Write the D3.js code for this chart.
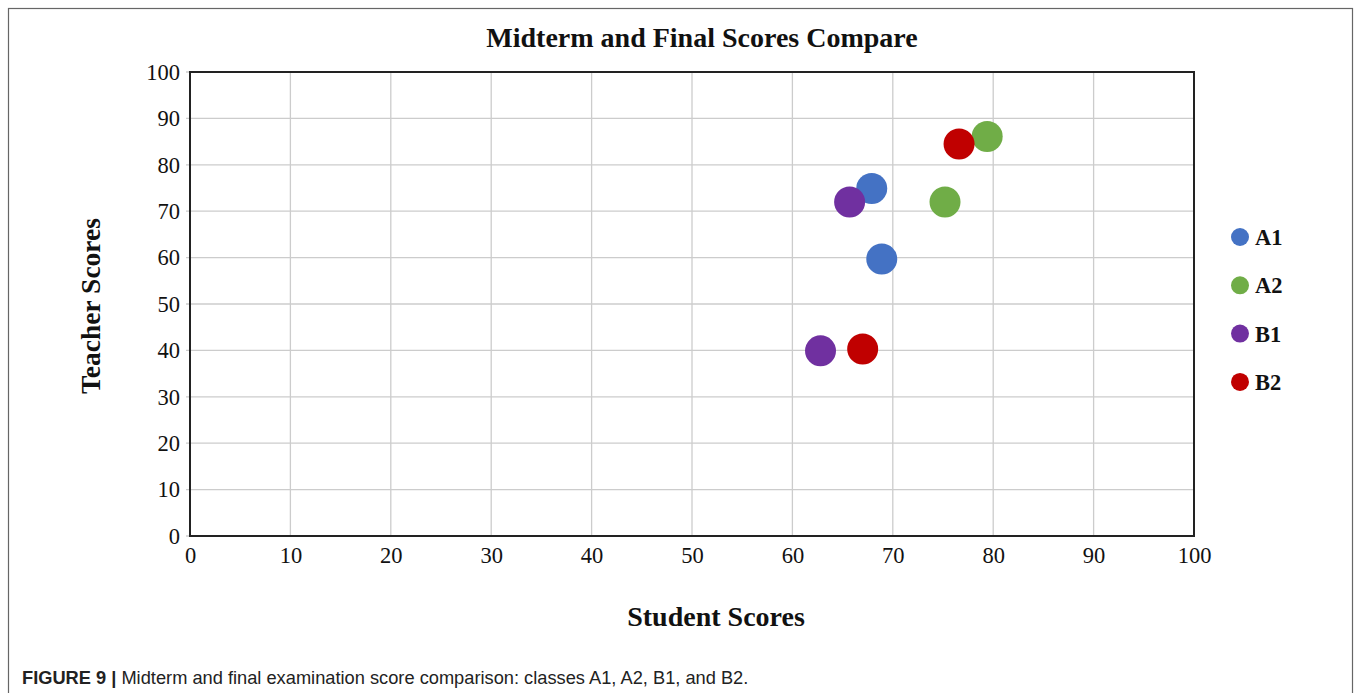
<!DOCTYPE html>
<html>
<head>
<meta charset="utf-8">
<script src="https://cdn.jsdelivr.net/npm/d3@7"></script>
<style>
    body { margin: 0; background: #fff; }
    svg { display: block; }
</style>
</head>
<body>
<script>
(function(){

    // classes and their colours
    var classNames = ["A1", "A2", "B1", "B2"];
    var classColors = ["#4472C4", "#70AD47", "#7030A0", "#C00000"];

    // student scores (x) and teacher scores (y), midterm then final
    var studentScores = [
        [67.9, 68.9],
        [75.2, 79.4],
        [65.7, 62.8],
        [67.0, 76.6]
    ];
    var teacherScores = [
        [74.9, 59.7],
        [72.0, 86.1],
        [72.0, 39.9],
        [40.3, 84.5]
    ];

    var tickValues = [0, 10, 20, 30, 40, 50, 60, 70, 80, 90, 100];

    window.onload = setChart();

    function setChart(){
        var width = 1358,
            height = 693;

        var serif = "'Liberation Serif', 'Times New Roman', serif";

        var svg = d3.select("body")
            .append("svg")
            .attr("width", width)
            .attr("height", height);

        // outer frame
        svg.append("rect")
            .attr("x", 8.5)
            .attr("y", 8.5)
            .attr("width", 1344)
            .attr("height", 700)
            .attr("fill", "none")
            .attr("stroke", "#666")
            .attr("stroke-width", 1.2);

        var x = d3.scaleLinear().domain([0, 100]).range([190, 1194]);
        var y = d3.scaleLinear().domain([0, 100]).range([536, 72]);

        // grid
        svg.selectAll(".vgrid")
            .data(tickValues)
            .enter()
            .append("line")
            .attr("class", "vgrid")
            .attr("x1", function(d){ return x(d); })
            .attr("x2", function(d){ return x(d); })
            .attr("y1", y(0))
            .attr("y2", y(100))
            .attr("stroke", "#cccccc")
            .attr("stroke-width", 1.3);

        svg.selectAll(".hgrid")
            .data(tickValues)
            .enter()
            .append("line")
            .attr("class", "hgrid")
            .attr("x1", x(0) - 4)
            .attr("x2", x(100))
            .attr("y1", function(d){ return y(d); })
            .attr("y2", function(d){ return y(d); })
            .attr("stroke", "#cccccc")
            .attr("stroke-width", 1.3);

        // axes (labels only, frame drawn separately)
        var xAxis = svg.append("g")
            .attr("transform", "translate(0," + y(0) + ")")
            .call(d3.axisBottom(x).tickValues(tickValues).tickSize(0).tickPadding(11));
        var yAxis = svg.append("g")
            .attr("transform", "translate(" + x(0) + ",0)")
            .call(d3.axisLeft(y).tickValues(tickValues).tickSize(0).tickPadding(10));

        [xAxis, yAxis].forEach(function(a){
            a.select(".domain").remove();
            a.selectAll("text")
                .attr("font-family", serif)
                .attr("font-size", 22.5)
                .attr("fill", "#111");
        });

        // plot frame
        svg.append("rect")
            .attr("x", x(0))
            .attr("y", y(100))
            .attr("width", x(100) - x(0))
            .attr("height", y(0) - y(100))
            .attr("fill", "none")
            .attr("stroke", "#222")
            .attr("stroke-width", 2);

        // points
        classNames.forEach(function(name, i){
            var pts = studentScores[i].map(function(sx, j){
                return { sx: sx, ty: teacherScores[i][j] };
            });
            svg.selectAll(".pt" + name)
                .data(pts)
                .enter()
                .append("circle")
                .attr("class", "pt" + name)
                .attr("cx", function(d){ return x(d.sx); })
                .attr("cy", function(d){ return y(d.ty); })
                .attr("r", 15.5)
                .attr("fill", classColors[i]);
        });

        // title
        svg.append("text")
            .attr("x", 702)
            .attr("y", 47)
            .attr("text-anchor", "middle")
            .attr("font-family", serif)
            .attr("font-weight", "bold")
            .attr("font-size", 28)
            .attr("fill", "#111")
            .text("Midterm and Final Scores Compare");

        // axis titles
        svg.append("text")
            .attr("x", 716)
            .attr("y", 626)
            .attr("text-anchor", "middle")
            .attr("font-family", serif)
            .attr("font-weight", "bold")
            .attr("font-size", 28)
            .attr("fill", "#111")
            .text("Student Scores");

        svg.append("text")
            .attr("transform", "translate(100,306) rotate(-90)")
            .attr("text-anchor", "middle")
            .attr("font-family", serif)
            .attr("font-weight", "bold")
            .attr("font-size", 27.5)
            .attr("fill", "#111")
            .text("Teacher Scores");

        // legend
        var legend = svg.selectAll(".legend")
            .data(classNames)
            .enter()
            .append("g")
            .attr("class", "legend")
            .attr("transform", function(d, i){ return "translate(1240," + (237 + i * 48.3) + ")"; });

        legend.append("circle")
            .attr("r", 9)
            .attr("fill", function(d, i){ return classColors[i]; });

        legend.append("text")
            .attr("x", 15)
            .attr("y", 8)
            .attr("font-family", serif)
            .attr("font-weight", "bold")
            .attr("font-size", 22.5)
            .attr("fill", "#111")
            .text(function(d){ return d; });

        // caption
        var caption = svg.append("text")
            .attr("x", 22)
            .attr("y", 684)
            .attr("font-family", "'Liberation Sans', Arial, sans-serif")
            .attr("font-size", 18.25)
            .attr("fill", "#222");
        caption.append("tspan")
            .attr("font-weight", "bold")
            .text("FIGURE 9 | ");
        caption.append("tspan")
            .text("Midterm and final examination score comparison: classes A1, A2, B1, and B2.");
    };

})();
</script>
</body>
</html>
